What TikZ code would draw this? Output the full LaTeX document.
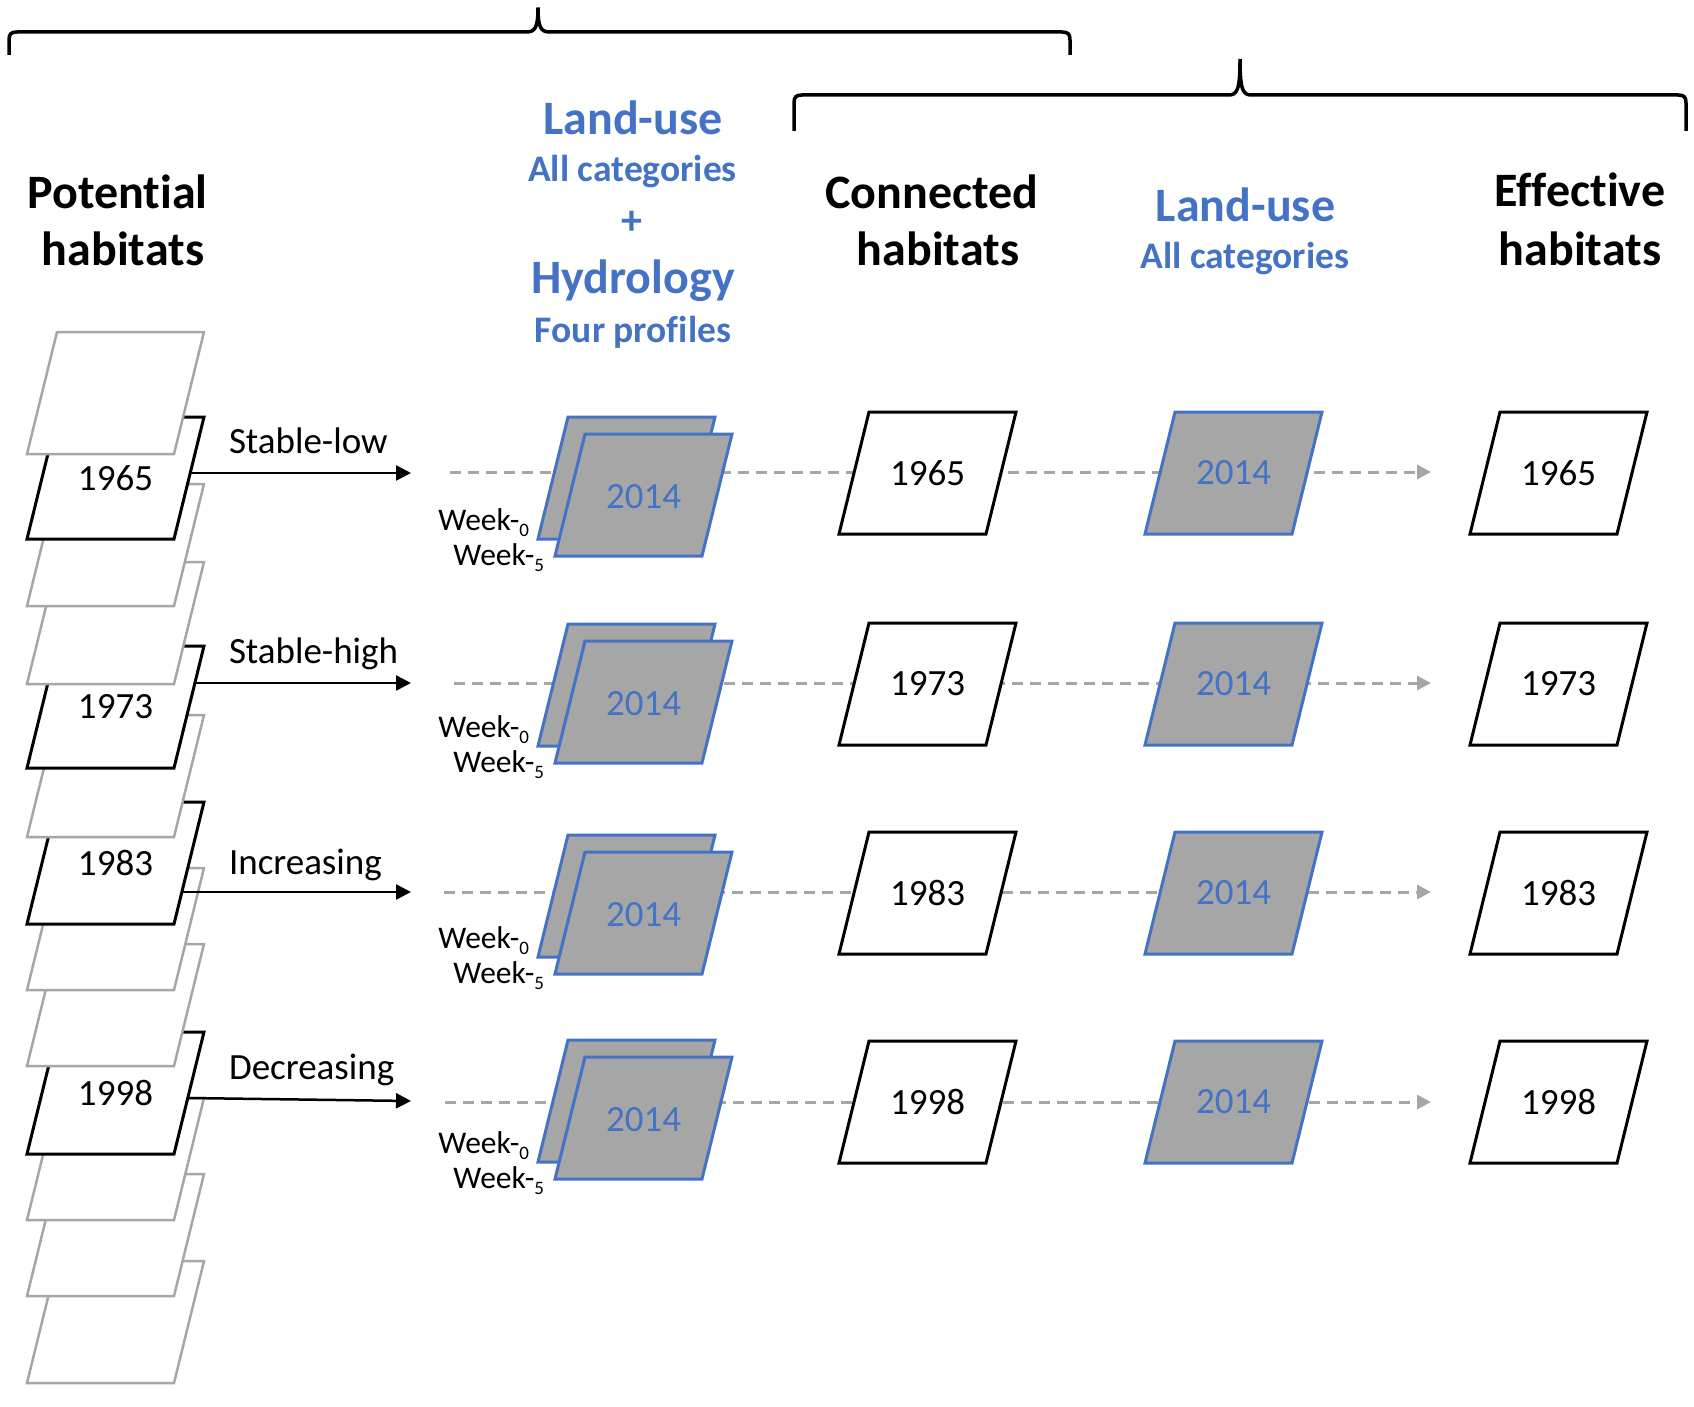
\documentclass[tikz,border=0pt]{standalone}
\usepackage{fontspec}
\setmainfont{Carlito}[Ligatures={NoCommon,TeX}]
\usetikzlibrary{arrows.meta}
\definecolor{ublue}{HTML}{4472C4}
\definecolor{ugray}{HTML}{A6A6A6}
\newcommand\setfs[1]{\fontsize{#1}{#1}\selectfont}
\newcommand\wsub[1]{\raisebox{-6pt}{\setfs{19}#1}}
% parallelogram by its top-left corner
\newcommand\pgm[3]{\path[#1] (#2,#3) -- ++(147,0) -- ++(-30,122) -- ++(-147,0) -- cycle;}
\begin{document}
\begin{tikzpicture}[x=1pt,y=-1pt,
  every node/.style={inner sep=0pt,outer sep=0pt},
  layer/.style={draw=ugray,line width=2.5pt,fill=white},
  yearlayer/.style={draw=black,line width=3pt,fill=white},
  lubox/.style={draw=ublue,line width=3pt,fill=ugray},
  dashline/.style={draw=ugray,line width=3pt,dash pattern=on 11pt off 7pt,-{Triangle[length=14pt,width=14pt]}},
  flow/.style={draw=black,line width=2.5pt,-{Triangle[length=15pt,width=15pt]}},
  brace/.style={draw=black,line width=3.5pt,line cap=butt},
  hdr/.style={font=\setfs{48}\bfseries},
  bhdr/.style={font=\setfs{48}\bfseries,text=ublue},
  bsub/.style={font=\setfs{37.5}\bfseries,text=ublue},
  num/.style={font=\setfs{37}},
  bnum/.style={font=\setfs{37},text=ublue},
  lbl/.style={font=\setfs{37}},
  wk/.style={font=\setfs{31.5}}]
\useasboundingbox (0,0) rectangle (1694,1407);

% braces
\draw[brace] (9,55) -- (9,40) .. controls (9,34) and (11,32) .. (17,32) -- (526,32)
  .. controls (535,32) and (538,28) .. (538,7.5) .. controls (538,28) and (541,32) .. (550,32)
  -- (1062,32) .. controls (1068,32) and (1070,34) .. (1070,40) -- (1070,55);
\draw[brace] (794,131) -- (794,103) .. controls (794,97) and (796,95) .. (802,95) -- (1228,95)
  .. controls (1237,95) and (1240,91) .. (1240,59) .. controls (1240,91) and (1243,95) .. (1252,95)
  -- (1678,95) .. controls (1684,95) and (1686,97) .. (1686,103) -- (1686,131);

% headers
\node[hdr,anchor=base] (hpot1) at (117.5,209) {Potential};
\node[hdr,anchor=base] (hpot2) at (123,265) {habitats};
\node[bhdr,anchor=base] (hlu1) at (633,135) {Land-use};
\node[bsub,anchor=base] (hac1) at (632.5,182) {All categories};
\node[font=\setfs{42}\bfseries,text=ublue] (hplus) at (632,223) {+};
\node[bhdr,anchor=base] (hhyd) at (633,293) {Hydrology};
\node[bsub,anchor=base] (hfour) at (633,342) {Four profiles};
\node[hdr,anchor=base] (hcon1) at (932,208) {Connected};
\node[hdr,anchor=base] (hcon2) at (938,265) {habitats};
\node[bhdr,anchor=base] (hlu2) at (1245.5,222) {Land-use};
\node[bsub,anchor=base] (hac2) at (1245,268) {All categories};
\node[hdr,anchor=base] (heff1) at (1580,207) {Ef\kern0ptfective};
\node[hdr,anchor=base] (heff2) at (1580,265) {habitats};

% left stack (bottom layer drawn first)
\foreach \t in {1261,1174,1098} {\pgm{layer}{57}{\t}}
\pgm{yearlayer}{57}{1032}
\foreach \t in {944,868} {\pgm{layer}{57}{\t}}
\pgm{yearlayer}{57}{802}
\pgm{layer}{57}{715}
\pgm{yearlayer}{57}{646}
\foreach \t in {562,484} {\pgm{layer}{57}{\t}}
\pgm{yearlayer}{57}{417}
\pgm{layer}{57}{332}
\node[num] (p1965) at (115.5,478) {1965};
\node[num] (p1973) at (115.5,707) {1973};
\node[num] (p1983) at (115.5,863) {1983};
\node[num] (p1998) at (115.5,1093) {1998};

% dashed flow lines (behind the maps)
\coordinate (d1s) at (450,472);  \coordinate (d1e) at (1431,472);
\coordinate (d2s) at (454,683);  \coordinate (d2e) at (1431,683);
\coordinate (d3s) at (444,892);  \coordinate (d3e) at (1431,892);
\coordinate (d4s) at (445,1102); \coordinate (d4e) at (1431,1102);
\foreach \i in {1,2,3,4} {\draw[dashline] (d\i s) -- (d\i e);}

% column 2: land-use + hydrology stacks
\foreach \b/\n in {417/1,624/2,835/3,1040/4} {
  \pgm{lubox}{568}{\b}
  \pgm{lubox}{585}{\b+17}
  \node[bnum] (h\n) at (643.5,\b+80) {2014};
  \node[wk,anchor=base east] (w0\n) at (529,\b+113) {Week-\wsub{0}};
  \node[wk,anchor=base east] (w5\n) at (544,\b+148) {Week-\wsub{5}};
}

% columns 3-5
\foreach \t/\y in {412/1965,623/1973,832/1983,1041/1998} {
  \pgm{yearlayer}{869}{\t}
  \node[num] (c\y) at (927.5,\t+61) {\y};
  \pgm{lubox}{1175}{\t}
  \node[bnum] (l\y) at (1233.5,\t+61) {2014};
  \pgm{yearlayer}{1500}{\t}
  \node[num] (e\y) at (1558.5,\t+61) {\y};
}

% trajectory arrows and labels
\coordinate (a1s) at (190,473);   \coordinate (a1e) at (411,473);
\coordinate (a2s) at (195,683);   \coordinate (a2e) at (411,683);
\coordinate (a3s) at (182,892);   \coordinate (a3e) at (411,892);
\coordinate (a4s) at (188,1098);  \coordinate (a4e) at (411,1101);
\foreach \i in {1,2,3,4} {\draw[flow] (a\i s) -- (a\i e);}
\node[lbl,anchor=base west] (t1) at (229,453) {Stable-low};
\node[lbl,anchor=base west] (t2) at (229,663) {Stable-high};
\node[lbl,anchor=base west] (t3) at (229,874) {Increasing};
\node[lbl,anchor=base west] (t4) at (229,1079) {Decreasing};
\end{tikzpicture}
\end{document}
